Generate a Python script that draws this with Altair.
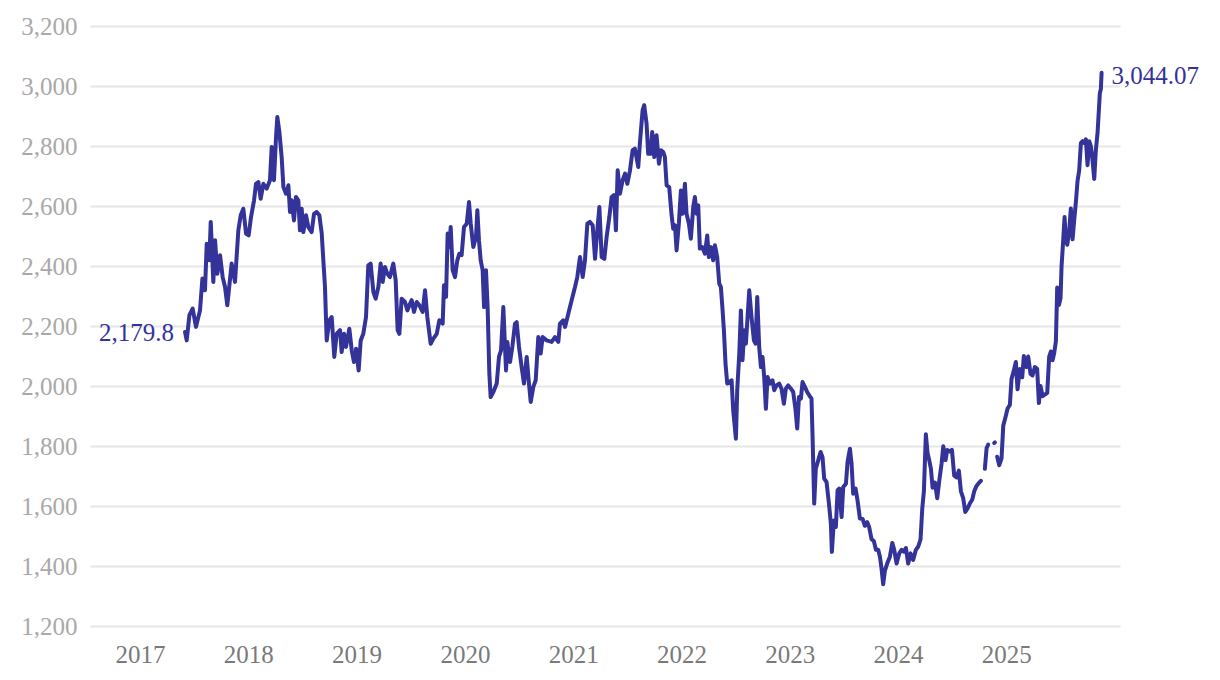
import altair as alt
import pandas as pd

# (decimal year, index level) pairs
SERIES_2017_2019 = [
    (2017.416, 2179.8), (2017.431, 2152), (2017.456, 2236), (2017.486, 2258), (2017.517, 2197),
    (2017.554, 2252), (2017.576, 2358), (2017.600, 2319), (2017.616, 2474), (2017.640, 2419),
    (2017.653, 2547), (2017.677, 2347), (2017.693, 2486), (2017.714, 2374), (2017.739, 2436),
    (2017.763, 2363), (2017.785, 2330), (2017.806, 2269), (2017.846, 2408), (2017.877, 2347),
    (2017.908, 2519), (2017.930, 2569), (2017.954, 2591), (2017.979, 2508), (2018.003, 2502),
    (2018.025, 2563), (2018.053, 2619), (2018.071, 2674), (2018.093, 2680), (2018.114, 2624),
    (2018.139, 2674), (2018.170, 2658), (2018.200, 2686), (2018.216, 2797), (2018.237, 2686),
    (2018.256, 2830), (2018.268, 2897), (2018.287, 2847), (2018.308, 2763), (2018.324, 2663),
    (2018.348, 2641), (2018.360, 2652), (2018.370, 2669), (2018.385, 2580), (2018.400, 2619),
    (2018.422, 2552), (2018.440, 2630), (2018.462, 2619), (2018.477, 2519), (2018.493, 2591),
    (2018.508, 2513), (2018.533, 2569), (2018.554, 2530), (2018.585, 2513), (2018.607, 2574),
    (2018.631, 2580), (2018.656, 2569), (2018.678, 2508), (2018.693, 2419), (2018.708, 2330),
    (2018.724, 2152), (2018.748, 2219), (2018.770, 2230), (2018.794, 2097), (2018.816, 2174),
    (2018.847, 2186), (2018.862, 2113), (2018.884, 2174), (2018.902, 2130), (2018.933, 2191),
    (2018.955, 2119), (2018.976, 2080), (2018.995, 2124), (2019.019, 2052), (2019.038, 2152),
    (2019.062, 2174), (2019.087, 2230), (2019.108, 2402), (2019.130, 2408), (2019.155, 2313),
    (2019.176, 2291), (2019.201, 2330), (2019.222, 2408), (2019.241, 2347), (2019.262, 2397),
    (2019.284, 2374), (2019.308, 2363), (2019.339, 2408), (2019.361, 2352), (2019.379, 2186),
    (2019.395, 2174), (2019.416, 2291), (2019.447, 2280), (2019.469, 2252), (2019.493, 2274),
]

SERIES_2019_2021 = [
    (2019.509, 2286), (2019.530, 2247), (2019.555, 2280), (2019.580, 2269), (2019.610, 2247),
    (2019.632, 2319), (2019.653, 2230), (2019.684, 2141), (2019.709, 2158), (2019.740, 2174),
    (2019.764, 2219), (2019.795, 2208), (2019.807, 2336), (2019.826, 2297), (2019.841, 2508),
    (2019.857, 2463), (2019.869, 2530), (2019.887, 2386), (2019.909, 2363), (2019.930, 2419),
    (2019.949, 2441), (2019.970, 2436), (2019.992, 2530), (2020.017, 2541), (2020.038, 2613),
    (2020.054, 2541), (2020.078, 2463), (2020.103, 2497), (2020.115, 2586), (2020.130, 2486),
    (2020.146, 2419), (2020.164, 2386), (2020.177, 2263), (2020.195, 2386), (2020.210, 2263),
    (2020.226, 2041), (2020.238, 1963), (2020.263, 1980), (2020.294, 2008), (2020.315, 2097),
    (2020.334, 2119), (2020.355, 2263), (2020.380, 2052), (2020.392, 2147), (2020.417, 2080),
    (2020.438, 2130), (2020.463, 2208), (2020.478, 2213), (2020.500, 2130), (2020.524, 2063),
    (2020.546, 2008), (2020.571, 2097), (2020.589, 2019), (2020.608, 1947), (2020.632, 1997),
    (2020.654, 2019), (2020.678, 2163), (2020.700, 2108), (2020.718, 2163), (2020.755, 2152),
    (2020.801, 2147), (2020.832, 2163), (2020.863, 2147), (2020.878, 2208), (2020.909, 2219),
    (2020.925, 2197), (2020.955, 2241), (2020.986, 2286), (2021.017, 2330), (2021.038, 2363),
    (2021.063, 2430), (2021.088, 2363), (2021.109, 2419), (2021.131, 2541), (2021.155, 2547),
    (2021.180, 2536), (2021.202, 2424), (2021.223, 2519), (2021.242, 2597), (2021.263, 2430),
    (2021.288, 2424), (2021.309, 2497), (2021.334, 2563), (2021.355, 2630), (2021.377, 2636),
    (2021.395, 2519), (2021.411, 2719), (2021.432, 2641), (2021.457, 2686), (2021.479, 2708),
    (2021.500, 2674), (2021.525, 2719),
]

SERIES_2021_2023 = [
    (2021.549, 2786), (2021.570, 2791), (2021.601, 2730), (2021.616, 2808), (2021.641, 2919),
    (2021.656, 2936), (2021.678, 2874), (2021.693, 2774), (2021.715, 2774), (2021.730, 2847),
    (2021.749, 2763), (2021.770, 2836), (2021.792, 2741), (2021.810, 2786), (2021.832, 2780),
    (2021.847, 2763), (2021.863, 2669), (2021.887, 2663), (2021.909, 2569), (2021.924, 2524),
    (2021.940, 2536), (2021.955, 2452), (2021.976, 2541), (2021.995, 2652), (2022.010, 2574),
    (2022.032, 2674), (2022.047, 2574), (2022.069, 2541), (2022.087, 2491), (2022.109, 2597),
    (2022.124, 2630), (2022.140, 2574), (2022.155, 2602), (2022.170, 2458), (2022.192, 2463),
    (2022.217, 2441), (2022.238, 2502), (2022.253, 2430), (2022.272, 2463), (2022.293, 2419),
    (2022.309, 2469), (2022.330, 2430), (2022.349, 2341), (2022.364, 2330), (2022.380, 2252),
    (2022.392, 2186), (2022.407, 2074), (2022.423, 2008), (2022.441, 2013), (2022.463, 2019),
    (2022.478, 1919), (2022.503, 1824), (2022.515, 1986), (2022.534, 2108), (2022.549, 2252),
    (2022.564, 2086), (2022.580, 2186), (2022.595, 2141), (2022.607, 2208), (2022.626, 2319),
    (2022.647, 2230), (2022.669, 2152), (2022.684, 2141), (2022.700, 2297), (2022.718, 2130),
    (2022.734, 2063), (2022.749, 2097), (2022.764, 2030), (2022.780, 1924), (2022.795, 2030),
    (2022.817, 2008), (2022.841, 2019), (2022.857, 1986), (2022.878, 2002), (2022.903, 2008),
    (2022.924, 1991), (2022.946, 1941), (2022.964, 1991), (2022.986, 2002), (2023.011, 1991),
    (2023.032, 1980), (2023.054, 1919), (2023.069, 1858), (2023.085, 1963), (2023.103, 1958),
    (2023.118, 2013), (2023.140, 1997), (2023.161, 1980), (2023.180, 1969), (2023.201, 1958),
    (2023.211, 1830), (2023.226, 1608), (2023.241, 1724), (2023.263, 1752), (2023.285, 1780),
    (2023.303, 1763), (2023.318, 1691), (2023.340, 1680), (2023.362, 1608), (2023.380, 1541),
    (2023.389, 1447), (2023.408, 1552), (2023.426, 1530), (2023.442, 1652), (2023.457, 1658),
    (2023.479, 1563), (2023.494, 1663), (2023.519, 1674), (2023.534, 1747), (2023.556, 1791),
    (2023.571, 1741), (2023.586, 1641), (2023.608, 1658), (2023.626, 1619), (2023.648, 1558),
]

SERIES_2023_2024 = [
    (2023.673, 1557), (2023.694, 1534), (2023.716, 1546), (2023.734, 1529), (2023.756, 1489),
    (2023.777, 1483), (2023.796, 1454), (2023.817, 1454), (2023.833, 1431), (2023.848, 1391),
    (2023.863, 1339), (2023.879, 1385), (2023.900, 1408), (2023.925, 1431), (2023.947, 1477),
    (2023.965, 1454), (2023.987, 1408), (2024.011, 1442), (2024.033, 1454), (2024.054, 1448),
    (2024.073, 1460), (2024.094, 1408), (2024.116, 1442), (2024.140, 1420), (2024.165, 1454),
    (2024.187, 1465), (2024.208, 1489), (2024.224, 1592), (2024.239, 1649), (2024.257, 1839),
    (2024.273, 1776), (2024.288, 1753), (2024.304, 1724), (2024.319, 1661), (2024.341, 1678),
    (2024.362, 1626), (2024.381, 1684), (2024.402, 1741), (2024.418, 1799), (2024.439, 1753),
    (2024.454, 1787), (2024.479, 1782), (2024.498, 1787), (2024.519, 1701), (2024.541, 1695),
    (2024.562, 1718), (2024.581, 1649), (2024.602, 1626), (2024.621, 1580), (2024.642, 1592),
    (2024.664, 1609), (2024.685, 1621), (2024.704, 1649), (2024.725, 1667), (2024.750, 1678),
    (2024.765, 1684),
]

# short runs separated by missing data
SERIES_GAP_1 = [(2024.802, 1724), (2024.818, 1793), (2024.833, 1805)]
SERIES_GAP_2 = [(2024.888, 1810), (2024.895, 1812)]

SERIES_2024_2025 = [
    (2024.916, 1764), (2024.935, 1736), (2024.956, 1759), (2024.972, 1868), (2024.993, 1897),
    (2025.012, 1925), (2025.033, 1937), (2025.048, 2023), (2025.070, 2052), (2025.088, 2080),
    (2025.104, 1989), (2025.125, 2057), (2025.147, 2029), (2025.162, 2100), (2025.187, 2063),
    (2025.202, 2098), (2025.224, 2040), (2025.242, 2035), (2025.264, 2063), (2025.285, 2057),
    (2025.301, 1943), (2025.316, 2000), (2025.335, 1966), (2025.356, 1971), (2025.378, 1977),
    (2025.396, 2098), (2025.412, 2115), (2025.427, 2086), (2025.442, 2109), (2025.458, 2149),
    (2025.470, 2328), (2025.486, 2270), (2025.501, 2293), (2025.510, 2397), (2025.526, 2489),
    (2025.538, 2563), (2025.550, 2489), (2025.563, 2471), (2025.581, 2517), (2025.596, 2592),
    (2025.612, 2489), (2025.627, 2552), (2025.643, 2615), (2025.658, 2684), (2025.673, 2718),
    (2025.689, 2810), (2025.704, 2816), (2025.720, 2810), (2025.735, 2822), (2025.750, 2736),
    (2025.766, 2816), (2025.781, 2799), (2025.796, 2753), (2025.812, 2690), (2025.827, 2787),
    (2025.843, 2845), (2025.852, 2902), (2025.864, 2977), (2025.873, 2989), (2025.880, 3044.07),
]

YEAR_TICKS = [2017, 2018, 2019, 2020, 2021, 2022, 2023, 2024, 2025]
Y_TICKS = [1200, 1400, 1600, 1800, 2000, 2200, 2400, 2600, 2800, 3000, 3200]
START_LABEL = "2,179.8"
END_LABEL = "3,044.07"

LINE_COLOR = "#33339a"
FONT = "Liberation Serif"

pieces = [
    SERIES_2017_2019 + SERIES_2019_2021 + SERIES_2021_2023 + SERIES_2023_2024,
    SERIES_GAP_1,
    SERIES_GAP_2,
    SERIES_2024_2025,
]
rows = []
for seg, piece in enumerate(pieces):
    for t, v in piece:
        rows.append({"t": t, "v": v, "seg": seg})
df = pd.DataFrame(rows)

first_t, first_v = pieces[0][0]
last_t, last_v = pieces[-1][-1]
lab_start = pd.DataFrame([{"t": first_t, "v": first_v, "label": START_LABEL}])
lab_end = pd.DataFrame([{"t": last_t, "v": last_v, "label": END_LABEL}])

x_scale = alt.Scale(domain=[2016.538, 2026.05], nice=False, zero=False)
y_scale = alt.Scale(domain=[1200, 3200], nice=False, zero=False)

x_axis = alt.Axis(
    values=YEAR_TICKS, format="d", title=None, grid=False, domain=False, ticks=False,
    labelFont=FONT, labelFontSize=25, labelColor="#7a7a7a", labelPadding=16,
)
y_axis = alt.Axis(
    values=Y_TICKS, format=",d", title=None, grid=True, gridColor="#e6e6e6", gridWidth=2,
    domain=False, ticks=False, labelFont=FONT, labelFontSize=25, labelColor="#a9a9a9",
    labelPadding=13,
)

line = alt.Chart(df).mark_line(
    color=LINE_COLOR, strokeWidth=4, strokeJoin="round", strokeCap="round"
).encode(
    x=alt.X("t:Q", scale=x_scale, axis=x_axis),
    y=alt.Y("v:Q", scale=y_scale, axis=y_axis),
    detail="seg:N",
    order="t:Q",
)

start_text = alt.Chart(lab_start).mark_text(
    align="right", baseline="middle", dx=-11, dy=1, font=FONT, fontSize=25, color=LINE_COLOR
).encode(x=alt.X("t:Q", scale=x_scale), y=alt.Y("v:Q", scale=y_scale), text="label:N")

end_text = alt.Chart(lab_end).mark_text(
    align="left", baseline="middle", dx=10, dy=3, font=FONT, fontSize=25, color=LINE_COLOR
).encode(x=alt.X("t:Q", scale=x_scale), y=alt.Y("v:Q", scale=y_scale), text="label:N")

chart = alt.layer(line, start_text, end_text).properties(
    width=1030,
    height=600,
    autosize=alt.AutoSizeParams(type="none"),
    padding={"left": 82, "top": 18, "right": 90, "bottom": 40},
    background="white",
).configure_view(stroke=None)

chart.save("out.html", embed_options={"renderer": "svg", "actions": False})
